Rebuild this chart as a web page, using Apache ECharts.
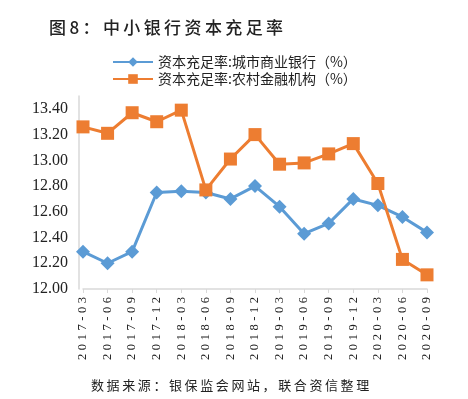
<!DOCTYPE html>
<html><head><meta charset="utf-8">
<script src="https://cdn.jsdelivr.net/npm/echarts@6/dist/echarts.min.js"></script>
<style>html,body{margin:0;padding:0;background:#fff}#c{width:468px;height:399px}</style>
</head><body><div id="c"></div>
<script>
const categories = ['2017-03','2017-06','2017-09','2017-12','2018-03','2018-06','2018-09','2018-12','2019-03','2019-06','2019-09','2019-12','2020-03','2020-06','2020-09'];
const cityBanks = [12.29,12.20,12.29,12.75,12.76,12.75,12.70,12.80,12.64,12.43,12.51,12.70,12.65,12.56,12.44];
const ruralInst = [13.26,13.21,13.37,13.30,13.39,12.77,13.01,13.20,12.97,12.98,13.05,13.13,12.82,12.23,12.11];
const seriesNames = ['资本充足率:城市商业银行（%）','资本充足率:农村金融机构（%）'];
const titleText = '图8：中小银行资本充足率';
const sourceText = '数据来源：银保监会网站，联合资信整理';
const spaced = (s, sep) => s.split('').join(sep);

const chart = echarts.init(document.getElementById('c'));
chart.setOption({
  animation: false,
  title: [
    { text: spaced(titleText, '\u2009'), left: 44, top: 14,
      textStyle: { fontFamily: 'Noto Sans CJK SC', fontSize: 17, fontWeight: 500, color: '#222' } },
    { text: spaced(sourceText, '\u2009'), left: 86, top: 374,
      textStyle: { fontFamily: 'Noto Sans CJK SC', fontSize: 13, fontWeight: 'normal', color: '#222' } }
  ],
  legend: {
    orient: 'vertical', left: 107, top: 50, itemWidth: 40, itemHeight: 12, itemGap: 3,
    textStyle: { fontFamily: 'Noto Sans CJK SC', fontSize: 14, color: '#222' },
    data: seriesNames
  },
  grid: { left: 83, right: 41, top: 96, bottom: 110 },
  xAxis: {
    type: 'category', data: categories, boundaryGap: false,
    axisLine: { lineStyle: { color: '#d9d9d9', width: 1.5 } },
    axisTick: { show: true, length: 4, lineStyle: { color: '#d9d9d9' } },
    axisLabel: { rotate: 90, margin: 8, interval: 0, fontFamily: 'Liberation Serif', fontSize: 12.5, color: '#222',
      formatter: v => spaced(v, '\u2009\u200A') }
  },
  yAxis: {
    type: 'value', min: 12, max: 13.5, interval: 0.2, offset: 4,
    axisLine: { show: true, lineStyle: { color: '#d9d9d9', width: 1.5 } },
    axisTick: { show: false },
    splitLine: { show: false },
    axisLabel: { showMaxLabel: false, margin: 11, fontFamily: 'Liberation Serif', fontSize: 16, color: '#222',
      formatter: v => v.toFixed(2) }
  },
  series: [
    { name: seriesNames[0], type: 'line', data: cityBanks, color: '#5B9BD5',
      symbol: 'diamond', symbolSize: 14, lineStyle: { width: 3 } },
    { name: seriesNames[1], type: 'line', data: ruralInst, color: '#ED7D31',
      symbol: 'rect', symbolSize: 13, lineStyle: { width: 3 } }
  ]
});
</script></body></html>
